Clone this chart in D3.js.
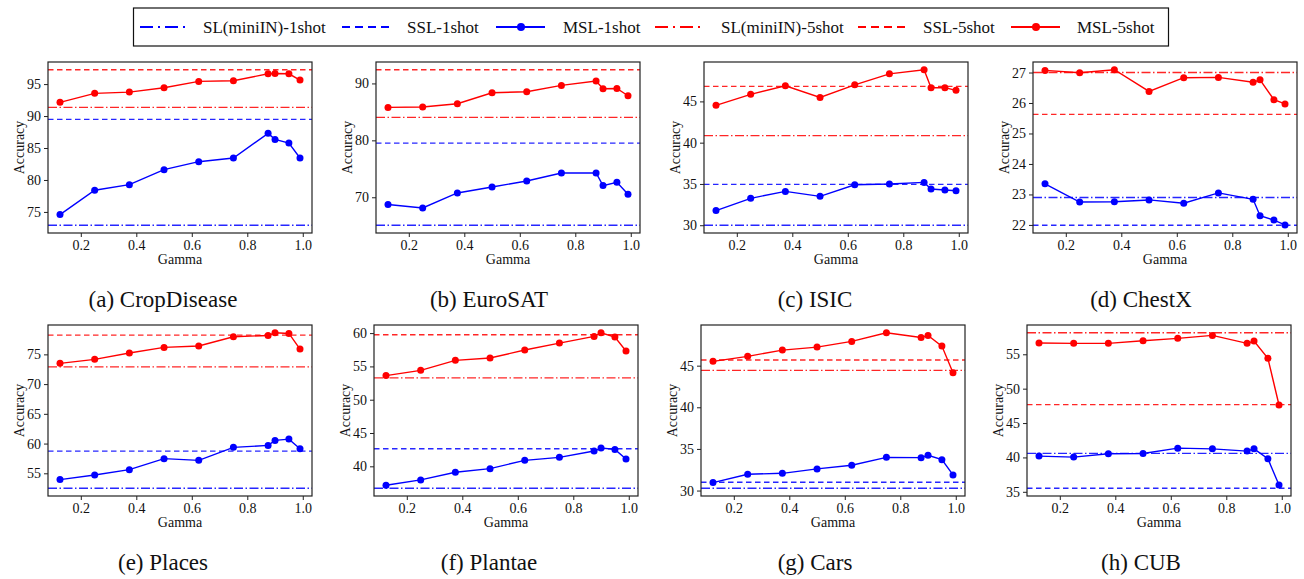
<!DOCTYPE html>
<html>
<head>
<meta charset="utf-8">
<script src="https://cdn.jsdelivr.net/npm/d3@7"></script>
<style>
  body { margin: 0; background: #fff; }
  svg text { font-family: "Liberation Serif", "Times New Roman", Times, serif; fill: #111; }
</style>
</head>
<body>
<div id="vis"></div>
<script>
var W = 1304, H = 579;

// Data
var gammas = [0.125, 0.25, 0.375, 0.5, 0.625, 0.75, 0.875, 0.9, 0.95, 0.99];
var datasets = ["CropDisease", "EuroSAT", "ISIC", "ChestX", "Places", "Plantae", "Cars", "CUB"];
var letters = ["a", "b", "c", "d", "e", "f", "g", "h"];

var msl5 = [
  [92.14, 93.55, 93.75, 94.43, 95.42, 95.52, 96.61, 96.66, 96.61, 95.63],
  [85.79, 85.85, 86.43, 88.36, 88.54, 89.65, 90.41, 89.06, 89.12, 87.84],
  [44.52, 45.85, 46.89, 45.48, 47.01, 48.34, 48.83, 46.66, 46.66, 46.34],
  [27.07, 26.99, 27.09, 26.38, 26.83, 26.84, 26.68, 26.76, 26.11, 25.97],
  [73.49, 74.16, 75.22, 76.17, 76.40, 77.96, 78.18, 78.63, 78.52, 75.89],
  [53.62, 54.41, 55.91, 56.26, 57.46, 58.50, 59.50, 60.05, 59.40, 57.31],
  [45.52, 46.12, 46.87, 47.23, 47.91, 48.95, 48.39, 48.63, 47.35, 44.16],
  [56.64, 56.59, 56.59, 56.98, 57.32, 57.75, 56.59, 56.92, 54.42, 47.63]
];
var msl1 = [
  [74.58, 78.39, 79.27, 81.61, 82.86, 83.44, 87.29, 86.35, 85.78, 83.44],
  [68.72, 68.13, 70.76, 71.81, 72.87, 74.27, 74.27, 72.05, 72.63, 70.53],
  [31.77, 33.26, 34.10, 33.50, 34.90, 34.99, 35.19, 34.38, 34.26, 34.18],
  [23.35, 22.75, 22.76, 22.82, 22.71, 23.05, 22.84, 22.30, 22.16, 22.00],
  [53.94, 54.72, 55.61, 57.46, 57.18, 59.36, 59.69, 60.53, 60.75, 59.13],
  [37.16, 37.96, 39.10, 39.65, 40.90, 41.35, 42.29, 42.74, 42.54, 41.10],
  [30.96, 31.96, 32.07, 32.60, 33.04, 33.99, 33.95, 34.23, 33.71, 31.88],
  [40.19, 40.05, 40.53, 40.58, 41.35, 41.25, 40.92, 41.25, 39.81, 36.00]
];
var sl1  = [72.92, 65.09, 30.00, 22.90, 52.49, 36.71, 30.28, 40.58];
var ssl1 = [89.48, 79.53, 34.95, 21.99, 58.74, 42.64, 31.00, 35.52];
var sl5  = [91.35, 84.04, 40.86, 27.00, 72.88, 53.27, 44.44, 58.13];
var ssl5 = [97.24, 92.40, 46.81, 25.63, 78.24, 59.75, 45.68, 47.67];

var xTicks = [0.2, 0.4, 0.6, 0.8, 1.0];
var yTicks = [
  [75, 80, 85, 90, 95],
  [70, 80, 90],
  [30, 35, 40, 45],
  [22, 23, 24, 25, 26, 27],
  [55, 60, 65, 70, 75],
  [40, 45, 50, 55, 60],
  [30, 35, 40, 45],
  [35, 40, 45, 50, 55]
];

var legendLabels = ["SL(miniIN)-1shot", "SSL-1shot", "MSL-1shot", "SL(miniIN)-5shot", "SSL-5shot", "MSL-5shot"];

// Layout
var panelLeft = [48, 376, 704, 1033, 48, 374, 701, 1027];
var rowTop = [62, 325];
var pw = 264, ph = 171;
var colCenter = [163, 489, 815, 1141];

var BLUE = "#0000ff", RED = "#ff0000";
var DASH = "5.5,3.5", DASHDOT = "9,2.5,1.5,2.5";
var FONT = "'Liberation Serif', 'Times New Roman', Times, serif";

var svg = d3.select("#vis").append("svg")
    .attr("width", W)
    .attr("height", H);

// Legend
function drawLegend() {
  var lg = svg.append("g").classed("legend", true);
  lg.append("rect")
    .attr("x", 133.5).attr("y", 8)
    .attr("width", 1035).attr("height", 38)
    .attr("fill", "#fff").attr("stroke", "#111").attr("stroke-width", 1.2);

  var lineX = [140, 342, 496, 655, 858, 1011];
  var textX = [203, 407, 563, 721, 923, 1077];
  var colors = [BLUE, BLUE, BLUE, RED, RED, RED];
  var dashes = [DASHDOT, DASH, null, DASHDOT, DASH, null];
  var cy = 27;

  legendLabels.forEach(function(lab, i) {
    var ln = lg.append("line")
      .attr("x1", lineX[i]).attr("x2", lineX[i] + 49)
      .attr("y1", cy).attr("y2", cy)
      .attr("stroke", colors[i]).attr("stroke-width", 2);
    if (dashes[i]) ln.attr("stroke-dasharray", i % 3 == 0 ? "13,5,2,5" : "8,5");
    else {
      lg.append("circle")
        .attr("cx", lineX[i] + 25).attr("cy", cy).attr("r", 4)
        .attr("fill", colors[i]);
    }
    lg.append("text")
      .attr("x", textX[i]).attr("y", cy + 6)
      .style("font-size", "17px")
      .text(lab);
  });
}

function drawPanel(k) {
  var row = Math.floor(k / 4), col = k % 4;
  var x0 = panelLeft[k], y0 = rowTop[row];

  // autoscale like matplotlib (5% margin)
  var allY = msl5[k].concat(msl1[k], [sl1[k], ssl1[k], sl5[k], ssl5[k]]);
  var ymin = d3.min(allY), ymax = d3.max(allY);
  var ym = (ymax - ymin) * 0.05;
  var xm = (d3.max(gammas) - d3.min(gammas)) * 0.05;

  var x = d3.scaleLinear()
      .domain([d3.min(gammas) - xm, d3.max(gammas) + xm])
      .range([0, pw]);
  var y = d3.scaleLinear()
      .domain([ymin - ym, ymax + ym])
      .range([ph, 0]);

  var g = svg.append("g").attr("transform", "translate(" + x0 + "," + y0 + ")");

  g.append("clipPath").attr("id", "clip" + k)
    .append("rect").attr("width", pw).attr("height", ph);

  var plot = g.append("g").attr("clip-path", "url(#clip" + k + ")");

  function hline(v, color, dash) {
    plot.append("line")
      .attr("x1", 0).attr("x2", pw)
      .attr("y1", y(v)).attr("y2", y(v))
      .attr("stroke", color).attr("stroke-width", 1.3)
      .attr("stroke-opacity", 0.85)
      .attr("stroke-dasharray", dash);
  }

  var line = d3.line()
      .x(function(d, i) { return x(gammas[i]); })
      .y(function(d) { return y(d); });

  function series(vals, color) {
    plot.append("path")
      .attr("d", line(vals))
      .attr("fill", "none")
      .attr("stroke", color).attr("stroke-width", 1.4);
    plot.selectAll(null)
      .data(vals)
      .enter().append("circle")
      .attr("cx", function(d, i) { return x(gammas[i]); })
      .attr("cy", function(d) { return y(d); })
      .attr("r", 3.5)
      .attr("fill", color);
  }

  hline(sl1[k], BLUE, DASHDOT);
  hline(ssl1[k], BLUE, DASH);
  series(msl1[k], BLUE);
  hline(sl5[k], RED, DASHDOT);
  hline(ssl5[k], RED, DASH);
  series(msl5[k], RED);

  // axes
  var xAxis = d3.axisBottom(x).tickValues(xTicks).tickSize(4).tickPadding(3)
      .tickFormat(d3.format(".1f"));
  var yAxis = d3.axisLeft(y).tickValues(yTicks[k]).tickSize(4).tickPadding(3)
      .tickFormat(d3.format("d"));

  var gx = g.append("g").attr("transform", "translate(0," + ph + ")").call(xAxis);
  var gy = g.append("g").call(yAxis);
  [gx, gy].forEach(function(a) {
    a.attr("font-family", FONT);
    a.select(".domain").remove();
    a.selectAll("line").attr("stroke", "#222").attr("stroke-width", 1);
    a.selectAll("text").style("font-size", "14px").attr("fill", "#111")
      .style("font-family", FONT);
  });

  // frame
  g.append("rect")
    .attr("width", pw).attr("height", ph)
    .attr("fill", "none").attr("stroke", "#222").attr("stroke-width", 1.2);

  g.append("text")
    .attr("x", pw / 2).attr("y", ph + 31)
    .attr("text-anchor", "middle")
    .style("font-size", "14px")
    .text("Gamma");

  g.append("text")
    .attr("transform", "translate(-29," + (ph / 2) + ") rotate(-90)")
    .attr("text-anchor", "middle")
    .attr("dy", "0.35em")
    .style("font-size", "14px")
    .text("Accuracy");

  svg.append("text")
    .attr("x", colCenter[col]).attr("y", y0 + 245)
    .attr("text-anchor", "middle")
    .style("font-size", "23px")
    .text("(" + letters[k] + ") " + datasets[k]);
}

drawLegend();
for (var k = 0; k < datasets.length; k++) drawPanel(k);
</script>
</body>
</html>
